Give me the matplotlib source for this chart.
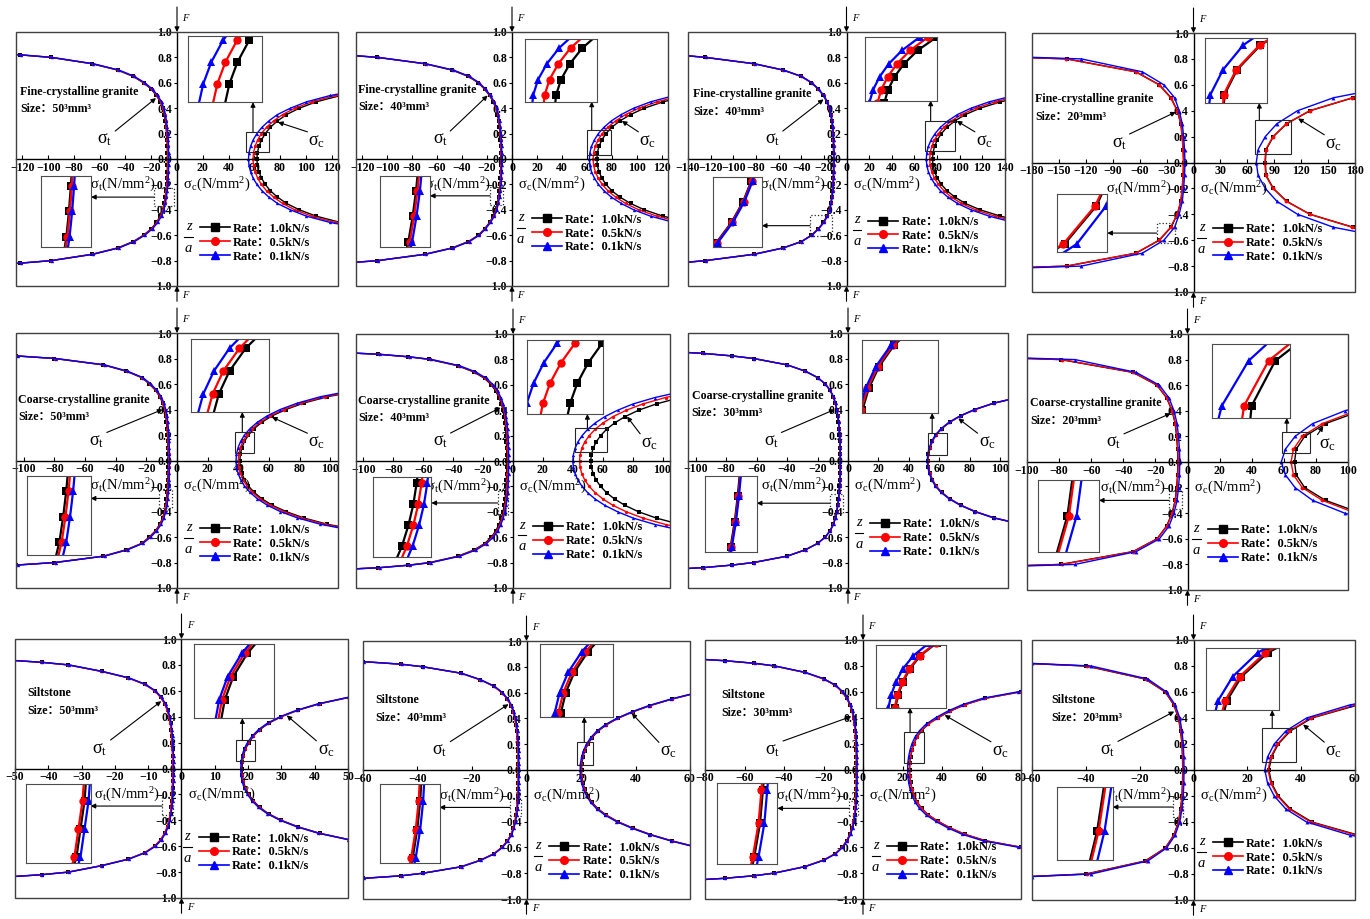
import numpy as np
import matplotlib
matplotlib.use("Agg")
import matplotlib.pyplot as plt
from matplotlib.lines import Line2D
from matplotlib.patches import Rectangle
from matplotlib.font_manager import FontProperties

plt.rcParams['font.family'] = ['Liberation Serif', 'Noto Sans CJK SC']
plt.rcParams['mathtext.fontset'] = 'stix'
plt.rcParams['axes.unicode_minus'] = True

# ---------------------------------------------------------------- data
# relative depth z/a (half profiles, the distributions are symmetric about z=0)
Z_T = [0, .05, .1, .15, .2, .25, .3, .35, .4, .45, .5, .55, .6, .65, .7, .75, .8, .82, .84, .86]
Z_C = [0, .05, .1, .15, .2, .25, .3, .35, .4, .45, .5, .55, .6, .65]
Z_T_S = [0, .1, .2, .3, .4, .5, .6, .7, .8, .82]
Z_C_S = [0, .1, .2, .3, .4, .5, .6]

RATES = ['1.0', '0.5', '0.1']
ROCKS = ['Fine-crystalline granite'] * 4 + ['Coarse-crystalline granite'] * 4 + ['Siltstone'] * 4
SIZES = ['50', '40', '40', '20', '50', '40', '30', '20', '50', '40', '30', '20']

# fine-crystalline granite, 50^3
fg50_t_10 = [-7.5, -7.5, -7.6, -7.8, -8.1, -8.6, -9.2, -10.0, -11.2, -13.0, -16.0, -20.0, -26.0, -34.0, -46.0, -66.0, -98.0, -122.0, -160.0, -215.0]
fg50_t_05 = [-7.2, -7.2, -7.3, -7.5, -7.8, -8.3, -8.9, -9.7, -10.9, -12.7, -15.7, -19.7, -25.7, -33.6, -45.6, -65.5, -97.5, -121.5, -159.5, -214.5]
fg50_t_01 = [-6.5, -6.5, -6.6, -6.8, -7.1, -7.6, -8.2, -9.0, -10.2, -12.0, -15.0, -19.0, -25.0, -33.0, -45.0, -65.0, -97.0, -121.0, -159.0, -214.0]
fg50_c_10 = [62, 62.4, 63.6, 65.6, 68.5, 72.5, 78, 85, 95, 108, 127, 156, 200, 280]
fg50_c_05 = [59, 59.4, 60.6, 62.6, 65.5, 69.5, 75, 82, 91.5, 104.5, 123, 151, 195, 272]
fg50_c_01 = [55.5, 55.9, 57.1, 59.1, 62, 66, 71.3, 78, 88, 100.5, 119, 147, 190, 265]

# fine-crystalline granite, 40^3
fg40_t_10 = [-9.0, -9.0, -9.1, -9.3, -9.6, -10.1, -10.8, -11.7, -13.0, -15.0, -18.0, -22.0, -27.0, -35.0, -48.0, -70.0, -108.0, -135.0, -180.0, -240.0]
fg40_t_05 = [-8.7, -8.7, -8.8, -9.0, -9.3, -9.8, -10.5, -11.4, -12.7, -14.7, -17.7, -21.7, -26.7, -34.6, -47.5, -69.5, -107.5, -134.5, -179.5, -239.5]
fg40_t_01 = [-8.2, -8.2, -8.3, -8.5, -8.8, -9.3, -10.0, -10.9, -12.2, -14.2, -17.2, -21.2, -26.2, -34.0, -47.0, -69.0, -107.0, -134.0, -179.0, -239.0]
fg40_c_10 = [68, 68.4, 69.7, 72, 75.3, 80, 86.5, 95, 106, 121, 142, 175, 225, 310]
fg40_c_05 = [65, 65.4, 66.7, 69, 72.2, 76.8, 83, 91, 101.5, 116, 136, 168, 217, 300]
fg40_c_01 = [62, 62.4, 63.7, 66, 69.2, 73.7, 79.6, 87.5, 97.5, 111, 130, 161, 208, 290]

# fine-crystalline granite, 40^3 (second series)
fg40b_t_10 = [-11.5, -11.5, -11.6, -11.8, -12.1, -12.5, -13.1, -14.0, -15.3, -17.3, -20.5, -25.0, -31.0, -40.0, -56.0, -82.0, -125.0, -150.0, -190.0, -250.0]
fg40b_t_05 = [-11.3, -11.3, -11.4, -11.6, -11.9, -12.3, -12.9, -13.8, -15.1, -17.1, -20.3, -24.8, -30.8, -39.8, -55.8, -81.5, -124.5, -149.5, -189.5, -249.5]
fg40b_t_01 = [-11.0, -11.0, -11.1, -11.3, -11.6, -12.0, -12.6, -13.5, -14.8, -16.8, -20.0, -24.5, -30.5, -39.5, -55.5, -81.0, -124.0, -149.0, -189.0, -249.0]
fg40b_c_10 = [76, 76.4, 77.8, 80.2, 83.8, 88.8, 95.7, 105, 118, 136, 160, 195, 250, 340]
fg40b_c_05 = [73.5, 73.9, 75.3, 77.7, 81.2, 86, 92.6, 101.5, 114, 131, 154, 188, 241, 330]
fg40b_c_01 = [70.5, 70.9, 72.3, 74.7, 78.2, 83, 89.5, 98, 110, 126, 148, 180, 232, 320]

# fine-crystalline granite, 20^3
fg20_t_10 = [-11, -11.5, -12.5, -14, -18, -25, -38, -64, -141, -230]
fg20_t_05 = [-11.2, -11.7, -12.7, -14.2, -18.2, -25.5, -38.5, -64.5, -142, -231]
fg20_t_01 = [-9.5, -10, -11, -12.5, -16, -21, -33, -57, -125, -215]
fg20_c_10 = [80, 81, 89, 104, 130, 178, 260]
fg20_c_05 = [79.5, 80.5, 88.5, 103.5, 129.5, 177, 258]
fg20_c_01 = [70, 72, 80, 93, 116, 156, 230]

# coarse-crystalline granite, 50^3
cg50_t_10 = [-5.8, -5.8, -5.9, -6.0, -6.2, -6.5, -6.9, -7.4, -8.2, -9.4, -11.2, -14.0, -18.0, -23.0, -33.0, -48.0, -80.0, -105.0, -140.0, -190.0]
cg50_t_05 = [-5.5, -5.5, -5.6, -5.7, -5.9, -6.2, -6.6, -7.1, -7.9, -9.1, -10.9, -13.7, -17.7, -22.7, -32.7, -47.7, -79.5, -104.5, -139.5, -189.5]
cg50_t_01 = [-4.9, -4.9, -5.0, -5.1, -5.3, -5.6, -6.0, -6.5, -7.3, -8.5, -10.3, -13.1, -17.1, -22.2, -32.2, -47.2, -79.0, -104.0, -139.0, -189.0]
cg50_c_10 = [41, 41.3, 42.3, 44, 46.6, 50.3, 55.3, 62, 71, 82.5, 98, 120, 150, 195]
cg50_c_05 = [40, 40.3, 41.3, 43, 45.6, 49.2, 54.1, 60.7, 69.5, 81, 96.2, 118, 148, 192]
cg50_c_01 = [38.5, 38.8, 39.8, 41.5, 44, 47.6, 52.4, 58.8, 67.3, 78.5, 93.5, 115, 144, 188]

# coarse-crystalline granite, 40^3
cg40_t_10 = [-4.2, -4.2, -4.3, -4.4, -4.6, -4.9, -5.3, -5.9, -6.7, -7.8, -9.4, -11.5, -14.5, -19.0, -26.0, -37.0, -56.0, -70.0, -90.0, -125.0]
cg40_t_05 = [-3.6, -3.6, -3.7, -3.8, -4.0, -4.3, -4.7, -5.3, -6.1, -7.2, -8.8, -10.9, -13.9, -18.4, -25.4, -36.4, -55.4, -69.4, -89.4, -124.4]
cg40_t_01 = [-2.9, -2.9, -3.0, -3.1, -3.3, -3.6, -4.0, -4.6, -5.4, -6.5, -8.1, -10.2, -13.2, -17.7, -24.7, -35.7, -54.7, -68.7, -88.7, -123.7]
cg40_c_10 = [52, 52.4, 53.6, 55.6, 58.6, 62.6, 68, 75, 84, 96, 112, 134, 165, 210]
cg40_c_05 = [44.5, 44.9, 46, 48, 51, 55, 60.2, 67, 75.8, 87, 102, 122, 150, 190]
cg40_c_01 = [40, 40.4, 41.5, 43.4, 46.2, 50, 55, 61.5, 70, 80.5, 95, 114, 141, 180]

# coarse-crystalline granite, 30^3
cg30_t_10 = [-5.2, -5.2, -5.3, -5.4, -5.6, -5.9, -6.3, -6.8, -7.5, -8.4, -9.7, -11.8, -15.0, -20.0, -28.0, -40.0, -62.0, -76.0, -95.0, -125.0]
cg30_t_05 = [-5.1, -5.1, -5.2, -5.3, -5.5, -5.8, -6.2, -6.7, -7.4, -8.3, -9.6, -11.7, -14.9, -19.9, -27.9, -39.9, -61.9, -75.9, -94.9, -124.9]
cg30_t_01 = [-5.0, -5.0, -5.1, -5.2, -5.4, -5.7, -6.1, -6.6, -7.3, -8.2, -9.5, -11.6, -14.8, -19.8, -27.8, -39.8, -61.8, -75.8, -94.8, -124.8]
cg30_c_10 = [52.5, 52.8, 53.8, 55.4, 57.8, 61.5, 66.8, 74, 83.5, 96, 114, 140, 175, 225]
cg30_c_05 = [52.3, 52.6, 53.6, 55.2, 57.6, 61.3, 66.6, 73.8, 83.3, 95.8, 113.8, 139.8, 174.8, 224.8]
cg30_c_01 = [52.0, 52.3, 53.3, 54.9, 57.3, 61.0, 66.3, 73.5, 83.0, 95.5, 113.5, 139.5, 174.5, 224.5]

# coarse-crystalline granite, 20^3
cg20_t_10 = [-6, -6.2, -6.8, -7.7, -9.6, -13, -19, -34, -79, -130]
cg20_t_05 = [-5.8, -6, -6.6, -7.5, -9.4, -12.8, -18.8, -33.8, -78, -129]
cg20_t_01 = [-4.8, -5, -5.6, -6.5, -8.4, -11.5, -17.5, -32, -70, -120]
cg20_c_10 = [66.7, 67.7, 73, 86, 108, 140, 185]
cg20_c_05 = [64.5, 66, 71.5, 84, 105, 137, 182]
cg20_c_01 = [58.4, 61, 67, 78, 98, 128, 170]

# siltstone, 50^3
st50_t_10 = [-2.6, -2.6, -2.6, -2.7, -2.8, -2.9, -3.1, -3.3, -3.7, -4.2, -5.0, -6.2, -8.0, -11.0, -16.0, -24.0, -34.0, -42.0, -54.0, -70.0]
st50_t_05 = [-2.7, -2.7, -2.7, -2.8, -2.9, -3.0, -3.2, -3.4, -3.8, -4.3, -5.1, -6.3, -8.1, -11.1, -16.1, -24.1, -34.1, -42.1, -54.1, -70.1]
st50_t_01 = [-2.4, -2.4, -2.4, -2.5, -2.6, -2.7, -2.9, -3.1, -3.5, -4.0, -4.8, -6.0, -7.8, -10.8, -15.8, -23.8, -33.8, -41.8, -53.8, -69.8]
st50_c_10 = [18.2, 18.3, 18.6, 19.2, 20.2, 21.6, 23.5, 26.2, 30, 35, 41.5, 50.5, 63, 80]
st50_c_05 = [18.0, 18.1, 18.4, 19.0, 20.0, 21.4, 23.3, 26.0, 29.8, 34.8, 41.3, 50.3, 62.8, 79.8]
st50_c_01 = [17.8, 17.9, 18.2, 18.8, 19.8, 21.2, 23.1, 25.8, 29.6, 34.6, 41.1, 50.1, 62.6, 79.6]

# siltstone, 40^3
st40_t_10 = [-3.0, -3.0, -3.0, -3.1, -3.2, -3.3, -3.5, -3.8, -4.2, -4.8, -5.6, -7.0, -9.0, -12.0, -17.0, -24.0, -38.0, -46.0, -60.0, -78.0]
st40_t_05 = [-3.1, -3.1, -3.1, -3.2, -3.3, -3.4, -3.6, -3.9, -4.3, -4.9, -5.7, -7.1, -9.1, -12.1, -17.1, -24.1, -38.1, -46.1, -60.1, -78.1]
st40_t_01 = [-2.8, -2.8, -2.8, -2.9, -3.0, -3.1, -3.3, -3.6, -4.0, -4.6, -5.4, -6.8, -8.8, -11.8, -16.8, -23.8, -37.8, -45.8, -59.8, -77.8]
st40_c_10 = [20.2, 20.3, 20.7, 21.4, 22.5, 24, 26.2, 29.3, 33.5, 39, 45.5, 53.5, 63, 76]
st40_c_05 = [20.0, 20.1, 20.5, 21.2, 22.3, 23.8, 26, 29.1, 33.3, 38.8, 45.3, 53.3, 62.8, 75.8]
st40_c_01 = [19.7, 19.8, 20.2, 20.9, 22.0, 23.5, 25.7, 28.8, 33, 38.5, 45, 53, 62.5, 75.5]

# siltstone, 30^3
st30_t_10 = [-3.3, -3.3, -3.3, -3.4, -3.5, -3.7, -3.9, -4.3, -4.8, -5.5, -6.6, -8.2, -10.5, -14.0, -20.0, -29.5, -45.0, -55.0, -70.0, -92.0]
st30_t_05 = [-3.4, -3.4, -3.4, -3.5, -3.6, -3.8, -4.0, -4.4, -4.9, -5.6, -6.7, -8.3, -10.6, -14.1, -20.1, -29.6, -45.1, -55.1, -70.1, -92.1]
st30_t_01 = [-3.0, -3.0, -3.0, -3.1, -3.2, -3.4, -3.6, -4.0, -4.5, -5.2, -6.3, -7.9, -10.2, -13.7, -19.7, -29.2, -44.7, -54.7, -69.7, -91.7]
st30_c_10 = [23.6, 23.7, 24.1, 24.8, 25.8, 27.3, 29.7, 33, 38, 44, 51.5, 62, 80, 104]
st30_c_05 = [23.5, 23.6, 24, 24.7, 25.7, 27.2, 29.6, 32.9, 37.9, 43.9, 51.4, 61.9, 79.9, 103.9]
st30_c_01 = [22.6, 22.7, 23.1, 23.8, 24.8, 26.3, 28.6, 31.9, 36.8, 42.8, 50.2, 60.6, 78.5, 102.5]

# siltstone, 20^3
st20_t_10 = [-4, -4.1, -4.3, -4.8, -5.6, -7.3, -10.5, -18, -40, -62]
st20_t_05 = [-3.9, -4.0, -4.2, -4.7, -5.5, -7.2, -10.4, -17.8, -39.5, -61.5]
st20_t_01 = [-3.5, -3.6, -3.8, -4.3, -5.1, -6.8, -10, -17, -38, -60]
st20_c_10 = [28, 29, 31.5, 36, 44, 61, 86]
st20_c_05 = [27.7, 28.7, 31.2, 35.6, 43.5, 60.2, 85]
st20_c_01 = [26.5, 27.5, 30, 34.3, 42, 58, 83]

# ---------------------------------------------------------------- layout
W, H = 1370, 919
COLORS = ['#000000', '#ff0000', '#0000ff']
MARKERS = ['s', 'o', '^']

PANELS = [
    dict(box=(16, 32, 338, 286), xlim=125, tmax=120, step=20, zt=Z_T, zc=Z_C,
         t=(fg50_t_10, fg50_t_05, fg50_t_01), c=(fg50_c_10, fg50_c_05, fg50_c_01),
         tr=[0.534, 0.724, 0.23, 0.26], trr=(53.3, 71.7, .058, .21), tra=0.31,
         bl=[0.078, 0.154, 0.155, 0.279], blr=(-17.9, -2.3, -.37, -.23),
         npos=(0.012, 0.764), stl=0.276, stz=0.48, scz=0.29, leg=(0.571, 0.213)),
    dict(box=(356, 32, 668, 286), xlim=125, tmax=120, step=20, zt=Z_T, zc=Z_C,
         t=(fg40_t_10, fg40_t_05, fg40_t_01), c=(fg40_c_10, fg40_c_05, fg40_c_01),
         tr=[0.542, 0.726, 0.23, 0.248], trr=(60.3, 79.1, .03, .23), tra=0.19,
         bl=[0.077, 0.155, 0.16, 0.278], blr=(-17.6, -7.2, -.36, -.22),
         npos=(0.007, 0.772), stl=0.27, stz=0.5, scz=0.3, leg=(0.563, 0.249)),
    dict(box=(688, 32, 1005, 286), xlim=140, tmax=140, step=20, zt=Z_T, zc=Z_C,
         t=(fg40b_t_10, fg40b_t_05, fg40b_t_01), c=(fg40b_c_10, fg40b_c_05, fg40b_c_01),
         tr=[0.558, 0.73, 0.227, 0.25], trr=(69.3, 95.8, .06, .30), tra=0.19,
         bl=[0.079, 0.154, 0.154, 0.276], blr=(-32.3, -13.2, -.61, -.44),
         npos=(0.016, 0.755), stl=0.267, stz=0.47, scz=0.3, leg=(0.569, 0.24)),
    dict(box=(1032, 33, 1355, 292), xlim=180, tmax=180, step=30, zt=Z_T_S, zc=Z_C_S,
         t=(fg20_t_10, fg20_t_05, fg20_t_01), c=(fg20_c_10, fg20_c_05, fg20_c_01),
         tr=[0.536, 0.73, 0.192, 0.25], trr=(68.6, 108.3, .066, .328), tra=0.12,
         bl=[0.078, 0.156, 0.155, 0.221], blr=(-41.0, -20.6, -.62, -.47),
         npos=(0.01, 0.745), stl=0.27, stz=0.39, scz=0.34, leg=(0.56, 0.23)),
    dict(box=(16, 333, 338, 588), xlim=105, tmax=100, step=20, zt=Z_T, zc=Z_C,
         t=(cg50_t_10, cg50_t_05, cg50_t_01), c=(cg50_c_10, cg50_c_05, cg50_c_01),
         tr=[0.543, 0.69, 0.244, 0.286], trr=(37.8, 50.4, .06, .22), tra=0.38,
         bl=[0.035, 0.13, 0.197, 0.31], blr=(-11.6, -3.3, -.375, -.22),
         npos=(0.007, 0.737), stl=0.25, stz=0.4, scz=0.34, leg=(0.571, 0.216)),
    dict(box=(356, 334, 670, 588), xlim=105, tmax=100, step=20, zt=Z_T, zc=Z_C,
         t=(cg40_t_10, cg40_t_05, cg40_t_01), c=(cg40_c_10, cg40_c_05, cg40_c_01),
         tr=[0.544, 0.685, 0.242, 0.291], trr=(41.5, 62.7, .073, .257), tra=0.39,
         bl=[0.055, 0.123, 0.185, 0.313], blr=(-10.2, -3.1, -.425, -.236),
         npos=(0.007, 0.737), stl=0.269, stz=0.42, scz=0.35, leg=(0.564, 0.227)),
    dict(box=(688, 333, 1008, 588), xlim=105, tmax=100, step=20, zt=Z_T, zc=Z_C,
         t=(cg30_t_10, cg30_t_05, cg30_t_01), c=(cg30_c_10, cg30_c_05, cg30_c_01),
         tr=[0.543, 0.686, 0.239, 0.288], trr=(52.7, 64.8, .043, .213), tra=0.21,
         bl=[0.053, 0.14, 0.162, 0.30], blr=(-11.8, -3.1, -.41, -.26),
         npos=(0.011, 0.754), stl=0.26, stz=0.4, scz=0.33, leg=(0.569, 0.237)),
    dict(box=(1027, 334, 1348, 590), xlim=100, tmax=100, step=20, zt=Z_T_S, zc=Z_C_S,
         t=(cg20_t_10, cg20_t_05, cg20_t_01), c=(cg20_c_10, cg20_c_05, cg20_c_01),
         tr=[0.575, 0.672, 0.244, 0.288], trr=(58.7, 76.3, .073, .237), tra=0.18,
         bl=[0.035, 0.15, 0.189, 0.28], blr=(-11.5, -3.6, -.37, -.23),
         npos=(0.01, 0.73), stl=0.27, stz=0.38, scz=0.28, leg=(0.563, 0.221)),
    dict(box=(15, 639, 348, 898), xlim=50, tmax=50, step=10, zt=Z_T, zc=Z_C,
         t=(st50_t_10, st50_t_05, st50_t_01), c=(st50_c_10, st50_c_05, st50_c_01),
         tr=[0.537, 0.694, 0.241, 0.286], trr=(16.4, 22.1, .06, .22), tra=0.33,
         bl=[0.033, 0.137, 0.194, 0.303], blr=(-5.8, -2.6, -.36, -.22),
         npos=(0.037, 0.79), stl=0.255, stz=0.52, scz=0.41, leg=(0.553, 0.217)),
    dict(box=(363, 641, 690, 899), xlim=60, tmax=60, step=20, zt=Z_T, zc=Z_C,
         t=(st40_t_10, st40_t_05, st40_t_01), c=(st40_c_10, st40_c_05, st40_c_01),
         tr=[0.541, 0.705, 0.222, 0.285], trr=(18.6, 24.5, .04, .22), tra=0.44,
         bl=[0.052, 0.138, 0.182, 0.306], blr=(-6.0, -2.0, -.36, -.22),
         npos=(0.037, 0.771), stl=0.235, stz=0.51, scz=0.44, leg=(0.57, 0.187)),
    dict(box=(705, 640, 1021, 899), xlim=80, tmax=80, step=20, zt=Z_T, zc=Z_C,
         t=(st30_t_10, st30_t_05, st30_t_01), c=(st30_c_10, st30_c_05, st30_c_01),
         tr=[0.541, 0.739, 0.222, 0.241], trr=(20.9, 31.0, .05, .29), tra=0.29,
         bl=[0.037, 0.137, 0.192, 0.311], blr=(-6.9, -2.7, -.36, -.24),
         npos=(0.053, 0.786), stl=0.215, stz=0.41, scz=0.42, leg=(0.575, 0.187)),
    dict(box=(1032, 640, 1355, 900), xlim=60, tmax=60, step=20, zt=Z_T_S, zc=Z_C_S,
         t=(st20_t_10, st20_t_05, st20_t_01), c=(st20_c_10, st20_c_05, st20_c_01),
         tr=[0.54, 0.73, 0.226, 0.24], trr=(25.5, 38.0, .06, .32), tra=0.3,
         bl=[0.078, 0.154, 0.172, 0.281], blr=(-7.5, -3.75, -.36, -.21),
         npos=(0.06, 0.77), stl=0.234, stz=0.45, scz=0.35, leg=(0.56, 0.204)),
]

BOLD = FontProperties(family=['Liberation Serif', 'Noto Sans CJK SC'], weight='bold', size=8.6)
LEG_FP = FontProperties(family=['Liberation Serif', 'Noto Sans CJK SC'], weight='bold', size=9)
ARROW = dict(arrowstyle='-|>', color='k', lw=0.8, mutation_scale=7, shrinkA=0, shrinkB=0)


def signed(v, nd):
    s = f'{round(v, nd) + 0.0:.{nd}f}'
    return s.replace('-', '\u2212')


def mirror(z, v):
    z = np.asarray(z, float)
    v = np.asarray(v, float)
    return np.concatenate([v[::-1], v[1:]]), np.concatenate([-z[::-1], z[1:]])


def draw_curves(ax, p, ms, lw):
    for vals_t, vals_c, col, mk in zip(p['t'], p['c'], COLORS, MARKERS):
        for z, vals in ((p['zt'], vals_t), (p['zc'], vals_c)):
            x, zz = mirror(z, vals)
            ax.plot(x, zz, color=col, marker=mk, ms=ms, lw=lw, mew=0)


fig = plt.figure(figsize=(W / 100, H / 100), dpi=100)

for i, p in enumerate(PANELS):
    l, t, r, b = p['box']
    ax = fig.add_axes([l / W, 1 - b / H, (r - l) / W, (b - t) / H])
    ax.set_facecolor('none')
    xr = p['xlim']
    ax.set_xlim(-xr, xr)
    ax.set_ylim(-1, 1)

    # cross-shaped axes through the origin, plus a frame around the panel
    for s in ('top', 'right'):
        ax.spines[s].set_visible(False)
    ax.spines['left'].set_position(('data', 0))
    ax.spines['bottom'].set_position(('data', 0))
    for s in ('left', 'bottom'):
        ax.spines[s].set_linewidth(1.0)
    ax.add_patch(Rectangle((0, 0), 1, 1, transform=ax.transAxes, fill=False,
                           lw=1.0, ec='0.25', zorder=6, clip_on=False))

    xt = np.arange(-p['tmax'], p['tmax'] + 1, p['step'])
    yt = np.round(np.linspace(-1, 1, 11), 1)
    ax.set_xticks(xt)
    ax.set_xticklabels([signed(v, 0) for v in xt], fontsize=8.6, fontweight='bold')
    ax.set_yticks(yt)
    ax.set_yticklabels([signed(v, 1) for v in yt], fontsize=8.6, fontweight='bold')
    ax.tick_params(axis='x', direction='in', length=3, width=0.8, pad=2)
    ax.tick_params(axis='y', direction='out', length=2.5, width=0.8, pad=1)

    # loading arrows F at the top and bottom faces
    ax.annotate('', xy=(0, 1), xytext=(0, 18), textcoords='offset points',
                arrowprops=ARROW, annotation_clip=False)
    ax.annotate('', xy=(0, -1), xytext=(0, -11), textcoords='offset points',
                arrowprops=ARROW, annotation_clip=False)
    ax.annotate('F', xy=(0, 1), xytext=(4, 10), textcoords='offset points',
                fontsize=7.5, style='italic', va='center', annotation_clip=False)
    ax.annotate('F', xy=(0, -1), xytext=(4, -7), textcoords='offset points',
                fontsize=7.5, style='italic', va='center', annotation_clip=False)

    draw_curves(ax, p, ms=2.4 if p['zt'] is Z_T else 2.8, lw=1.0)

    # specimen description
    nx, ny = p['npos']
    ax.text(nx, ny, ROCKS[i], transform=ax.transAxes, fontproperties=BOLD, va='center')
    ax.text(nx, ny - 0.068, f'Size：{SIZES[i]}³mm³', transform=ax.transAxes,
            fontproperties=BOLD, va='center')

    # axis titles
    ax.text(0.435, 0.405, r'σ$_\mathregular{t}$(N/mm$^\mathregular{2}$)', transform=ax.transAxes,
            fontsize=10.5, ha='right', va='center')
    ax.text(0.52, 0.405, r'σ$_\mathregular{c}$(N/mm$^\mathregular{2}$)', transform=ax.transAxes,
            fontsize=10.5, ha='left', va='center')

    # sigma_t / sigma_c callouts
    stl = p['stl']
    ax.text(stl, 0.575, r'σ$_\mathregular{t}$', transform=ax.transAxes, fontsize=13,
            ha='center', va='center')
    tx = np.interp(p['stz'], p['zt'], p['t'][0]) - 0.012 * xr
    ax.annotate('', xy=(tx, p['stz']), xytext=(stl + 0.032, 0.61), textcoords='axes fraction',
                arrowprops=ARROW)
    ax.text(0.935, 0.57, r'σ$_\mathregular{c}$', transform=ax.transAxes, fontsize=13,
            ha='center', va='center')
    cx = np.interp(p['scz'], p['zc'], p['c'][0]) + 0.012 * xr
    ax.annotate('', xy=(cx, p['scz']), xytext=(0.905, 0.607), textcoords='axes fraction',
                arrowprops=ARROW)

    # magnified views of the compressive (top) and tensile (bottom) regions
    x0, x1, z0, z1 = p['trr']
    ax.add_patch(Rectangle((x0, z0), x1 - x0, z1 - z0, fill=False, lw=0.8, ec='0.15', zorder=6))
    ins = ax.inset_axes(p['tr'])
    draw_curves(ins, p, ms=6, lw=1.6)
    ins.set_xlim(x0, x1)
    ins.set_ylim(z0, z1)
    ax.annotate('', xy=(x0 + p['tra'] * (x1 - x0), p['tr'][1]), xycoords=('data', 'axes fraction'),
                xytext=(x0 + p['tra'] * (x1 - x0), z1), textcoords='data', arrowprops=ARROW)

    bx0, bx1, bz0, bz1 = p['blr']
    ax.add_patch(Rectangle((bx0, bz0), bx1 - bx0, bz1 - bz0, fill=False, lw=0.9, ls=':',
                           ec='0.15', zorder=6))
    ins2 = ax.inset_axes(p['bl'])
    draw_curves(ins2, p, ms=6, lw=1.6)
    ins2.set_xlim(bx0, bx1)
    ins2.set_ylim(bz0, bz1)
    bzm = 0.5 * (bz0 + bz1)
    ax.annotate('', xy=(p['bl'][0] + p['bl'][2], bzm), xycoords=('axes fraction', 'data'),
                xytext=(bx0, bzm), textcoords='data', arrowprops=ARROW)

    for a in (ins, ins2):
        a.set_xticks([])
        a.set_yticks([])
        a.set_facecolor('white')
        for sp in a.spines.values():
            sp.set_linewidth(0.8)
            sp.set_color('0.3')

    # legend with the loading-rate series
    lx, ly = p['leg']
    handles = [Line2D([], [], color=c, marker=m, ms=5.5, lw=1.2) for c, m in zip(COLORS, MARKERS)]
    ax.legend(handles, [f'Rate：{r}kN/s' for r in RATES], loc='upper left',
              bbox_to_anchor=(lx, ly + 0.036), frameon=False, prop=LEG_FP,
              handlelength=2.4, handletextpad=0.25, labelspacing=0.15,
              borderpad=0, borderaxespad=0)

    # z/a written as a stacked fraction
    fx, fy = lx - 0.035, ly - 0.02
    ax.text(fx, fy + 0.04, 'z', transform=ax.transAxes, fontsize=10.5, style='italic',
            ha='center', va='center')
    ax.text(fx, fy - 0.045, 'a', transform=ax.transAxes, fontsize=10.5, style='italic',
            ha='center', va='center')
    ax.plot([fx - 0.013, fx + 0.013], [fy, fy], transform=ax.transAxes, color='k',
            lw=0.8, clip_on=False)

fig.savefig('out.png', dpi=100)
